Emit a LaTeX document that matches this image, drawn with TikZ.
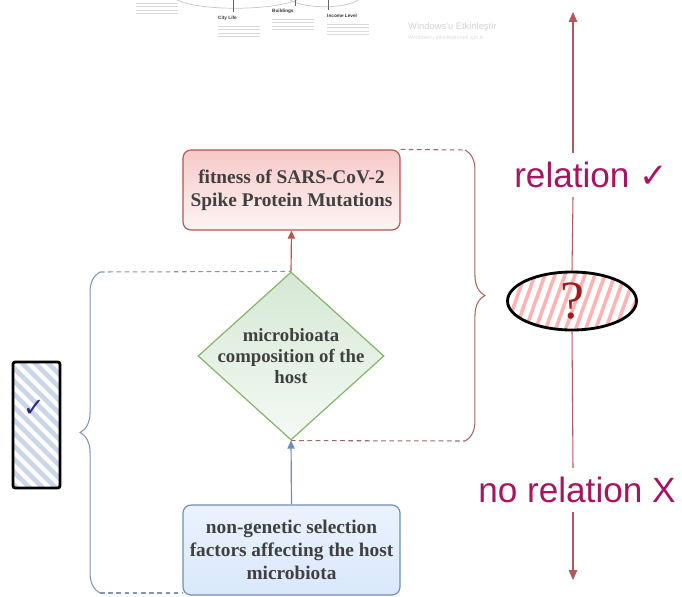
\documentclass[tikz,border=0pt]{standalone}
\usepackage{fontspec}
\setmainfont{Liberation Serif}
\newfontfamily\arialfont{Liberation Sans}
\newfontfamily\symfont{DejaVu Sans}
\usetikzlibrary{arrows.meta,shapes.geometric,decorations.pathreplacing}
\definecolor{redline}{HTML}{B85450}
\definecolor{redfill}{HTML}{F6C9C8}
\definecolor{greenline}{HTML}{82B366}
\definecolor{greenfill}{HTML}{D5E8D4}
\definecolor{blueline}{HTML}{6C8EBF}
\definecolor{bluefill}{HTML}{DAE8FC}
\definecolor{bracered}{HTML}{A86464}
\definecolor{braceblue}{HTML}{8294B6}
\definecolor{axisred}{HTML}{B05A5A}
\definecolor{magentatext}{HTML}{A8145F}
\definecolor{boxtext}{HTML}{404040}
\definecolor{qred}{HTML}{A01C1C}
\definecolor{checkblue}{HTML}{2A2A8A}
\newcommand{\myarrow}{Triangle[width=2.6mm,length=3mm]}
\newcommand{\smallarrow}{Triangle[width=2.2mm,length=2.4mm]}
\tikzset{
  flowbox/.style={draw, rounded corners=2.4mm, line width=1pt, minimum width=6.51cm,
    align=center, text=boxtext, font=\fontsize{16.5}{19.5}\selectfont\bfseries},
  flowtext/.style={align=center, text=boxtext, font=\fontsize{16}{18}\selectfont\bfseries},
  dashlink/.style={line width=0.9pt, dash pattern=on 4pt off 3pt},
  bracelink/.style={line width=0.9pt, decorate, decoration={brace, amplitude=17pt}},
  axisline/.style={axisred, line width=0.9pt},
  relfont/.style={text=magentatext, font=\arialfont\fontsize{30}{30}\selectfont, inner sep=0pt, minimum height=1.32cm},
  papline/.style={gray!30, line width=0.6pt},
  tinylabel/.style={font=\arialfont\bfseries\fontsize{4}{5}\selectfont, inner sep=0pt, text=black!80}
}

\begin{document}
\begin{tikzpicture}[x=0.03cm, y=-0.03cm]
  % frame is (0,0) to (682,597), y grows downward
  \useasboundingbox (0,0) rectangle (682,597);

  % cropped screenshot at the top
  \draw[gray!45, line width=0.6pt] (177,0) .. controls (200,11) and (270,11) .. (297,0);
  \draw[gray!45, line width=0.6pt] (290,0) .. controls (305,9) and (345,9) .. (358,0);
  \draw[gray!80!black, line width=0.7pt] (233,0) -- (233,12);
  \draw[gray!80!black, line width=0.7pt] (295,0) -- (295,6);
  \draw[gray!80!black, line width=0.7pt] (328,0) -- (328,10);
  \node[tinylabel, anchor=west] (city) at (218,18) {City Life};
  \node[tinylabel, anchor=west] (build) at (272,11) {Buildings};
  \node[tinylabel, anchor=west] (income) at (327,16) {Income Level};
  \foreach \r in {0,1,2,3} {
    \draw[papline] (136,3+\r*3.6) -- ++(42,0);
    \draw[papline] (218,26+\r*3.6) -- ++(42,0);
    \draw[papline] (272,19+\r*3.6) -- ++(42,0);
    \draw[papline] (327,24+\r*3.6) -- ++(42,0);
  }
  \node[anchor=west, inner sep=0pt, text=gray!35, font=\arialfont\fontsize{8}{9}\selectfont] (win) at (408,27) {Windows'u Etkinleştir};
  \node[anchor=west, inner sep=0pt, text=gray!30, font=\arialfont\fontsize{4.6}{5}\selectfont] (winsub) at (408,38) {Windows'u etkinleştirmek için A};

  % flow nodes
  \node[flowbox, draw=redline, top color=redfill, bottom color=redfill!20, minimum height=2.4cm] (fit) at (291.5,190)
    {fitness of SARS-CoV-2\\Spike Protein Mutations};
  \node[diamond, draw=greenline, line width=1pt, top color=greenfill, bottom color=greenfill!25,
    minimum width=5.58cm, minimum height=5.04cm, inner sep=0pt] (mic) at (291,356) {};
  \node[flowtext] (mictext) at (mic.center) {microbioata\\composition of the\\host};
  \node[flowbox, draw=blueline, top color=bluefill!55, bottom color=bluefill, minimum height=2.7cm] (host) at (291.5,550)
    {non-genetic selection\\factors affecting the host\\microbiota};

  \draw[-\smallarrow, blueline, line width=1pt] (host.north) -- (mic.south);
  \draw[-\smallarrow, redline, line width=1pt] (mic.north) -- (fit.south);

  % red brace
  \coordinate (rtop) at (465,150);
  \coordinate (rbot) at (465,441);
  \draw[dashlink, bracered] (fit.north east) -- (rtop);
  \draw[dashlink, bracered] (mic.south) -- (rbot);
  \draw[bracelink, bracered] (rtop) -- (rbot);

  % blue brace
  \coordinate (btop) at (100,272);
  \coordinate (bbot) at (100,593);
  \draw[dashlink, braceblue] (btop) -- (mic.north);
  \draw[dashlink, braceblue] (bbot) -- (bbot -| host.west);
  \draw[bracelink, braceblue] (bbot) -- (btop);

  % relation axis
  \coordinate (axtop) at (573,12);
  \coordinate (axbot) at (573,580);
  \node[relfont] (rel) at (591,175) {relation {\symfont\fontsize{29}{29}\selectfont ✓}};
  \node[relfont] (norel) at (577,490) {no relation X};

  % hatched question mark
  \coordinate (qc) at (572,301);
  \begin{scope}
    \clip (qc) ellipse [x radius=1.92cm, y radius=0.87cm];
    \foreach \i in {0,...,16}
      \draw[red!30, line width=3pt, line cap=round] (470+\i*10,345) -- ++(32,-90);
  \end{scope}
  \node[ellipse, draw=black, line width=2.4pt, minimum width=3.87cm, minimum height=1.74cm, inner sep=0pt,
    text=qred, font=\fontsize{46}{46}\selectfont] (qmark) at (qc) {?};

  \draw[axisline, -\myarrow] (rel.north -| axtop) -- (axtop);
  \draw[axisline] (rel.south -| axtop) -- (qmark.north);
  \draw[axisline] (qmark.south) -- (norel.north -| axtop);
  \draw[axisline, -\myarrow] (norel.south -| axtop) -- (axbot);

  % hatched tick box
  \coordinate (tc) at (36.5,425);
  \begin{scope}
    \clip (13,362) rectangle (60,488);
    \foreach \i in {0,...,17}
      \draw[blueline!35, line width=4pt] (-160+\i*13,350) -- ++(150,150);
  \end{scope}
  \node[draw=black, line width=2.4pt, rounded corners=2pt, minimum width=1.41cm, minimum height=3.78cm] (tick) at (tc) {};
  \node[text=checkblue, font=\symfont\fontsize{22}{22}\selectfont, inner sep=0pt] (tickmark) at (34,408) {✓};
\end{tikzpicture}
\end{document}
